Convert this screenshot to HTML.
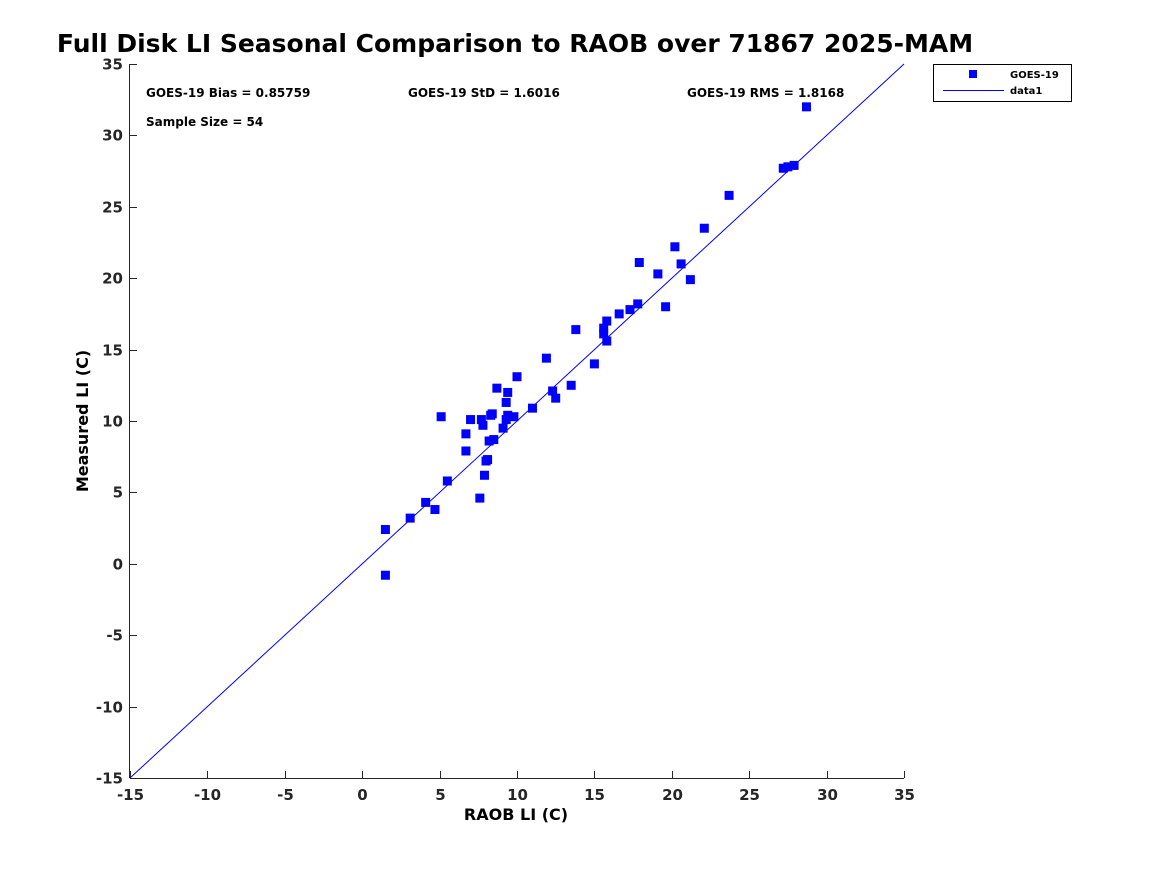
<!DOCTYPE html>
<html><head><meta charset="utf-8"><style>
body{margin:0;background:#fff;width:1167px;height:875px;overflow:hidden}
svg{font-family:"DejaVu Sans","Liberation Sans",sans-serif}
</style></head><body>
<svg width="1167" height="875">
<text x="515" y="52" text-anchor="middle" font-size="25" font-weight="bold">Full Disk LI Seasonal Comparison to RAOB over 71867 2025-MAM</text>
<g id="axes"></g>
<g id="marks"></g>
<text x="146" y="97" font-size="12" font-weight="bold">GOES-19 Bias = 0.85759</text>
<text x="408" y="97" font-size="12" font-weight="bold">GOES-19 StD = 1.6016</text>
<text x="687" y="97" font-size="12" font-weight="bold">GOES-19 RMS = 1.8168</text>
<text x="146" y="126" font-size="12" font-weight="bold">Sample Size = 54</text>
<text x="516" y="820" text-anchor="middle" font-size="16" font-weight="bold">RAOB LI (C)</text>
<text transform="translate(88,421) rotate(-90)" text-anchor="middle" font-size="16" font-weight="bold">Measured LI (C)</text>
<g>
<rect x="933.5" y="64.5" width="138" height="37" fill="#fff" stroke="#000" stroke-width="1"/>
<rect x="969" y="70" width="8" height="8" fill="#0000ff"/>
<text x="1010" y="78" font-size="10" font-weight="bold">GOES-19</text>
<line x1="943" y1="90.5" x2="1004" y2="90.5" stroke="#0000ff" stroke-width="1"/>
<text x="1010" y="94" font-size="10" font-weight="bold">data1</text>
</g>
</svg>
<script>
const xVals=[1.5,1.5,3.1,4.1,4.7,5.5,5.1,6.7,6.7,7.0,7.6,7.7,7.8,7.9,8.0,8.1,8.2,8.3,8.4,8.5,8.7,9.1,9.3,9.3,9.4,9.4,9.8,10.0,11.0,11.9,12.3,12.5,13.5,13.8,15.0,15.6,15.6,15.8,15.8,16.6,17.3,17.8,17.9,19.1,19.6,20.2,20.6,21.2,22.1,23.7,27.2,27.5,27.9,28.7];
const yVals=[2.4,-0.8,3.2,4.3,3.8,5.8,10.3,9.1,7.9,10.1,4.6,10.1,9.7,6.2,7.2,7.3,8.6,10.4,10.5,8.7,12.3,9.5,11.3,10.1,12.0,10.4,10.3,13.1,10.9,14.4,12.1,11.6,12.5,16.4,14.0,16.5,16.1,15.6,17.0,17.5,17.8,18.2,21.1,20.3,18.0,22.2,21.0,19.9,23.5,25.8,27.7,27.8,27.9,32.0];
const xTicks=[-15,-10,-5,0,5,10,15,20,25,30,35];
const yTicks=[-15,-10,-5,0,5,10,15,20,25,30,35];
const lineX=[-15,35];
const NS="http://www.w3.org/2000/svg";
const L=130,R=904,T=64,B=778;
const sx=v=>L+(v+15)/50*(R-L), sy=v=>B-(v+15)/50*(B-T);
function mk(t,a,p){const e=document.createElementNS(NS,t);for(const k in a)e.setAttribute(k,a[k]);p.appendChild(e);return e;}
const ax=document.getElementById('axes'), mg=document.getElementById('marks');
let xa=mk('line',{x1:L,y1:B+.5,x2:R,y2:B+.5,stroke:'#262626'},ax);


let ya=mk('line',{x1:L-.5,y1:T,x2:L-.5,y2:B,stroke:'#262626'},ax);


xTicks.forEach(v=>{const x=Math.round(sx(v))+.5;mk('line',{x1:x,y1:B,x2:x,y2:B-7,stroke:'#262626'},ax);
const t=mk('text',{x:x,y:B+22,'text-anchor':'middle','font-size':15,'font-weight':'bold',fill:'#262626'},ax);t.textContent=v;

});
yTicks.forEach(v=>{const y=Math.round(sy(v))+.5;mk('line',{x1:L,y1:y,x2:L+7,y2:y,stroke:'#262626'},ax);
const t=mk('text',{x:L-7,y:y+5,'text-anchor':'end','font-size':15,'font-weight':'bold',fill:'#262626'},ax);t.textContent=v;

});
const ln=mk('line',{x1:sx(lineX[0]),y1:sy(lineX[0]),x2:sx(lineX[1]),y2:sy(lineX[1]),stroke:'#0000ff','stroke-width':1},mg);


xVals.forEach((v,i)=>{const r=mk('rect',{x:sx(v)-4.5,y:sy(yVals[i])-4.5,width:9,height:9,fill:'#0000ff'},mg);

});
</script>
</body></html>
